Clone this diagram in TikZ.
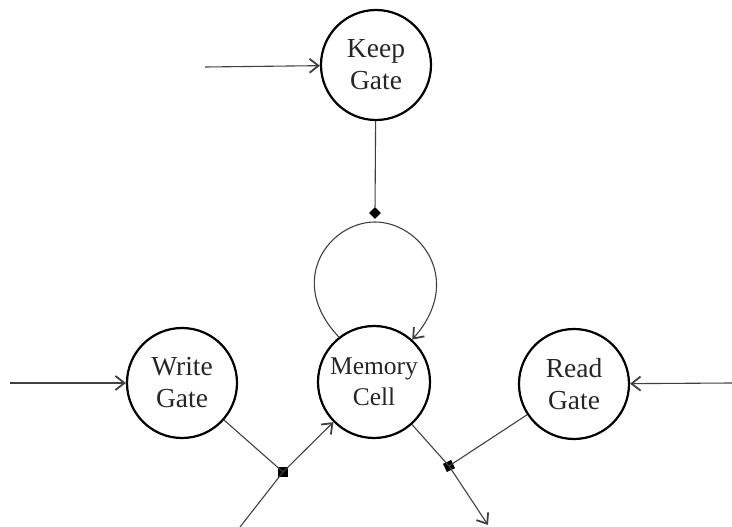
\documentclass[tikz,border=0pt]{standalone}
\usepackage{fontspec}
\setmainfont{Liberation Serif}
\usetikzlibrary{arrows.meta,shapes.geometric}
\begin{document}
\begin{tikzpicture}[x=1pt,y=-1pt,
  gate/.style={circle,draw=black,line width=2.2pt,minimum size=110pt,inner sep=0pt,align=center,
    text=black!85,font=\fontsize{27.5}{32}\selectfont},
  cellnode/.style={gate,minimum size=112pt,font=\fontsize{25.5}{31}\selectfont},
  conn/.style={draw=black!75,line width=1.1pt},
  arr/.style={conn,-{Straight Barb[length=9pt,width=14pt,line width=1.8pt]}},
  dotmark/.style={fill=black,inner sep=0pt,minimum size=8pt}]
\useasboundingbox (0,0) rectangle (732,527);
\node[gate] (keep) at (376,65) {Keep\\Gate};
\node[cellnode] (mem) at (374,382) {Memory\\Cell};
\node[gate] (write) at (182,383) {Write\\Gate};
\node[gate] (read) at (574,384) {Read\\Gate};
\node[dotmark,diamond,minimum size=12pt] (kd) at (375,213) {};
\node[dotmark,rectangle,minimum size=10pt] (ws) at (283,472) {};
\node[dotmark,rectangle,rotate=25,minimum size=9pt] (rs) at (449,466) {};
\coordinate (kin) at (205,67);
\coordinate (win) at (10,383);
\coordinate (rin) at (732,383);
\coordinate (bin) at (240,527);
\coordinate (out) at (488,525);
\draw[arr] (kin) -- (keep);
\draw[arr] (win) -- (write);
\draw[arr] (rin) -- (read);
\draw[conn] (keep) -- (kd);
\draw[arr] (mem.128) .. controls (285,280) and (330,222) .. (375,222)
  .. controls (420,222) and (465,280) .. (mem.48);
\draw[conn] (write) -- (ws.center);
\draw[conn] (bin) -- (ws.center);
\draw[arr] (ws.center) -- (mem);
\draw[conn] (mem) -- (rs.center);
\draw[conn] (read) -- (rs.center);
\draw[arr] (rs.center) -- (out);
\end{tikzpicture}
\end{document}
